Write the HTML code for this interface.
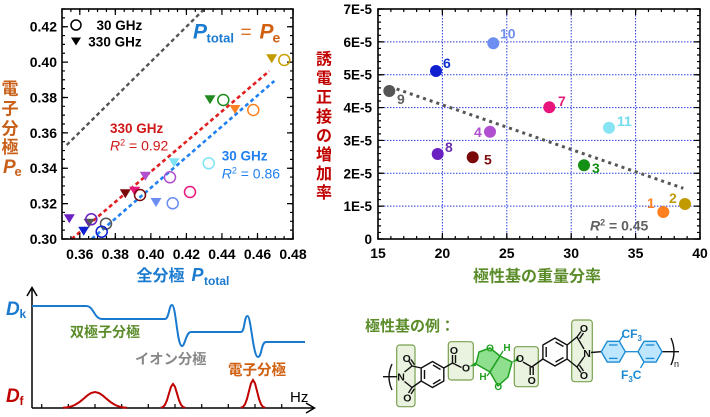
<!DOCTYPE html>
<html><head><meta charset="utf-8"><style>
html,body{margin:0;padding:0;background:#fff;}
svg{display:block;}
text{font-family:"Liberation Sans","Noto Sans CJK JP",sans-serif;}
.b{font-weight:bold;}
.j{font-family:"Liberation Sans","Noto Sans CJK JP",sans-serif;font-weight:bold;}
</style></head><body>
<svg width="710" height="417" viewBox="0 0 710 417" xmlns="http://www.w3.org/2000/svg">
<rect width="710" height="417" fill="#fff"/>

<!-- ===== LEFT CHART ===== -->
<g>
<!-- regression / reference lines -->
<line x1="66.7" y1="145" x2="203.3" y2="10" stroke="#555" stroke-width="2.4" stroke-dasharray="4 3"/>
<line x1="71.7" y1="239" x2="269.3" y2="71" stroke="#e02020" stroke-width="2.6" stroke-dasharray="4 3"/>
<line x1="91.7" y1="239" x2="274.3" y2="81" stroke="#2080f0" stroke-width="2.6" stroke-dasharray="4 3"/>

<!-- frame -->
<rect x="62" y="9" width="231" height="230" fill="none" stroke="#000" stroke-width="1.6"/>
<!-- ticks -->
<g stroke="#000">
<line x1="61.4" y1="237.5" x2="294" y2="237.5" stroke-width="3" stroke-dasharray="1.2 7.685"/>
<line x1="79.2" y1="236" x2="294" y2="236" stroke-width="6" stroke-dasharray="1.2 34.34"/>
<line x1="61.4" y1="10.5" x2="294" y2="10.5" stroke-width="3" stroke-dasharray="1.2 7.685"/>
<line x1="79.2" y1="12" x2="294" y2="12" stroke-width="6" stroke-dasharray="1.2 34.34"/>
<line x1="63.5" y1="239.6" x2="63.5" y2="8" stroke-width="3" stroke-dasharray="1.2 7.646"/>
<line x1="65" y1="239.6" x2="65" y2="8" stroke-width="6" stroke-dasharray="1.2 34.18"/>
<line x1="291.5" y1="239.6" x2="291.5" y2="8" stroke-width="3" stroke-dasharray="1.2 7.646"/>
<line x1="290" y1="239.6" x2="290" y2="8" stroke-width="6" stroke-dasharray="1.2 34.18"/>
</g>

<!-- y tick labels -->
<g class="b" font-size="14" text-anchor="end" fill="#000">
<text x="57" y="244">0.30</text>
<text x="57" y="208.6">0.32</text>
<text x="57" y="173.2">0.34</text>
<text x="57" y="137.8">0.36</text>
<text x="57" y="102.5">0.38</text>
<text x="57" y="67.1">0.40</text>
<text x="57" y="31.7">0.42</text>
</g>
<!-- x tick labels -->
<g class="b" font-size="14" text-anchor="middle" fill="#000">
<text x="79.8" y="259">0.36</text>
<text x="115.3" y="259">0.38</text>
<text x="150.9" y="259">0.40</text>
<text x="186.4" y="259">0.42</text>
<text x="221.9" y="259">0.44</text>
<text x="257.5" y="259">0.46</text>
<text x="293" y="259">0.48</text>
</g>

<!-- data: triangles (330 GHz) -->
<g>
<polygon points="266.2,54.3 277.2,54.3 271.7,63.3" fill="#c09a00"/>
<polygon points="204.5,95.3 215.5,95.3 210,104.3" fill="#208a20"/>
<polygon points="229.5,105 240.5,105 235,114" fill="#ff8020"/>
<polygon points="168.5,158.3 179.5,158.3 174,167.3" fill="#80e4f4"/>
<polygon points="139.8,171.7 150.8,171.7 145.3,180.7" fill="#b050d0"/>
<polygon points="119.8,189.3 130.8,189.3 125.3,198.3" fill="#7a0a0a"/>
<polygon points="129.2,186.7 140.2,186.7 134.7,195.7" fill="#e8157a"/>
<polygon points="150.5,198 161.5,198 156,207" fill="#6b8ef0"/>
<polygon points="63.8,214.3 74.8,214.3 69.3,223.3" fill="#6a20c0"/>
<polygon points="83.5,218.7 94.5,218.7 89,227.7" fill="#555"/>
<polygon points="78.2,226.7 89.2,226.7 83.7,235.7" fill="#1020d0"/>
</g>
<!-- data: circles (30 GHz) -->
<g fill="none" stroke-width="1.5">
<circle cx="284.3" cy="60" r="5.5" stroke="#c8a000"/>
<circle cx="223.3" cy="100" r="5.5" stroke="#208a20"/>
<circle cx="253.3" cy="110" r="5.5" stroke="#ff8020"/>
<circle cx="208.7" cy="163.3" r="5.5" stroke="#80e4f4"/>
<circle cx="170" cy="177.3" r="5.5" stroke="#b050d0"/>
<circle cx="140" cy="195" r="5.5" stroke="#7a0a0a"/>
<circle cx="190" cy="192" r="5.5" stroke="#e8157a"/>
<circle cx="172.7" cy="203.3" r="5.5" stroke="#6b8ef0"/>
<circle cx="91.3" cy="219.3" r="5.5" stroke="#6a20c0"/>
<circle cx="106" cy="223.7" r="5.5" stroke="#555"/>
<circle cx="101.7" cy="231.7" r="5.5" stroke="#1020d0"/>
</g>

<!-- legend -->
<circle cx="76" cy="25" r="5" fill="none" stroke="#000" stroke-width="1.5"/>
<text x="96.5" y="30" class="b" font-size="13.5">30 GHz</text>
<polygon points="71,37.5 81,37.5 76,45.5" fill="#000"/>
<text x="88.3" y="46.5" class="b" font-size="13.5">330 GHz</text>

<!-- P_total = P_e -->
<text x="193" y="38.5" font-family="Liberation Serif,serif" font-weight="bold" font-style="italic" font-size="21" fill="#1a7ad0">P</text>
<text x="206.5" y="42.5" class="b" font-size="13" fill="#1a7ad0">total</text>
<text x="240.5" y="38.5" font-size="19" fill="#e07020">=</text>
<text x="259.5" y="38.5" font-family="Liberation Serif,serif" font-weight="bold" font-style="italic" font-size="21" fill="#d06010">P</text>
<text x="272.5" y="42.5" font-family="Liberation Serif,serif" font-weight="bold" font-size="14" fill="#d06010">e</text>

<!-- fit annotations -->
<text x="110" y="133" class="b" font-size="13.5" fill="#d01818">330 GHz</text>
<text x="110" y="150.5" font-size="14" fill="#d01818"><tspan font-style="italic">R</tspan><tspan font-size="9" dy="-5">2</tspan><tspan dy="5"> = 0.92</tspan></text>
<text x="221.7" y="160.5" class="b" font-size="13.5" fill="#2080f0">30 GHz</text>
<text x="221.7" y="178.5" font-size="14" fill="#2080f0"><tspan font-style="italic">R</tspan><tspan font-size="9" dy="-5">2</tspan><tspan dy="5"> = 0.86</tspan></text>

<!-- axis titles -->
<g class="j" font-size="17" fill="#c8601a" text-anchor="middle">
<text x="10" y="94.5">電</text>
<text x="10" y="114.5">子</text>
<text x="10" y="134.5">分</text>
<text x="10" y="153">極</text>
</g>
<text x="3" y="173" font-family="Liberation Serif,serif" font-weight="bold" font-style="italic" font-size="19" fill="#c8601a">P</text>
<text x="14.5" y="176" font-family="Liberation Serif,serif" font-weight="bold" font-size="13" fill="#c8601a">e</text>

<text x="136.5" y="281" class="j" font-size="16" fill="#1a7ad0">全分極</text>
<text x="191.5" y="281" font-weight="bold" font-style="italic" font-size="18" fill="#1a7ad0">P</text>
<text x="204" y="285" class="b" font-size="12" fill="#1a7ad0">total</text>
</g>

<!-- ===== RIGHT CHART ===== -->
<g>
<!-- grid -->
<g stroke="#2a3ae0" stroke-width="1" stroke-dasharray="1.5 1.5">
<line x1="442.4" y1="9" x2="442.4" y2="239"/>
<line x1="506.8" y1="9" x2="506.8" y2="239"/>
<line x1="571.2" y1="9" x2="571.2" y2="239"/>
<line x1="635.6" y1="9" x2="635.6" y2="239"/>
<line x1="378" y1="206.1" x2="700" y2="206.1"/>
<line x1="378" y1="173.3" x2="700" y2="173.3"/>
<line x1="378" y1="140.4" x2="700" y2="140.4"/>
<line x1="378" y1="107.6" x2="700" y2="107.6"/>
<line x1="378" y1="74.7" x2="700" y2="74.7"/>
<line x1="378" y1="41.9" x2="700" y2="41.9"/>
</g>
<!-- trendline -->
<line x1="390" y1="86.7" x2="683.3" y2="188.3" stroke="#555" stroke-width="3" stroke-dasharray="3 4"/>

<!-- frame -->
<rect x="378" y="9" width="322" height="230" fill="none" stroke="#000" stroke-width="1.6"/>
<g stroke="#000">
<line x1="377.4" y1="237.5" x2="701" y2="237.5" stroke-width="3" stroke-dasharray="1.2 11.68"/>
<line x1="377.4" y1="236" x2="701" y2="236" stroke-width="6" stroke-dasharray="1.2 63.2"/>
<line x1="377.4" y1="10.5" x2="701" y2="10.5" stroke-width="3" stroke-dasharray="1.2 11.68"/>
<line x1="377.4" y1="12" x2="701" y2="12" stroke-width="6" stroke-dasharray="1.2 63.2"/>
<line x1="379.5" y1="239.6" x2="379.5" y2="8" stroke-width="3" stroke-dasharray="1.2 5.371"/>
<line x1="381" y1="239.6" x2="381" y2="8" stroke-width="6" stroke-dasharray="1.2 31.657"/>
<line x1="698.5" y1="239.6" x2="698.5" y2="8" stroke-width="3" stroke-dasharray="1.2 5.371"/>
<line x1="697" y1="239.6" x2="697" y2="8" stroke-width="6" stroke-dasharray="1.2 31.657"/>
</g>

<!-- tick labels -->
<g class="b" font-size="13.5" text-anchor="end">
<text x="372" y="244">0</text>
<text x="372" y="211">1E-5</text>
<text x="372" y="178.3">2E-5</text>
<text x="372" y="145.4">3E-5</text>
<text x="372" y="112.6">4E-5</text>
<text x="372" y="79.7">5E-5</text>
<text x="372" y="46.9">6E-5</text>
<text x="372" y="14">7E-5</text>
</g>
<g class="b" font-size="14" text-anchor="middle">
<text x="378" y="258">15</text>
<text x="442.4" y="258">20</text>
<text x="506.8" y="258">25</text>
<text x="571.2" y="258">30</text>
<text x="635.6" y="258">35</text>
<text x="700" y="258">40</text>
</g>

<!-- points -->
<circle cx="493.3" cy="43.3" r="6" fill="#6b8ef0"/>
<circle cx="436" cy="71" r="6" fill="#1020d0"/>
<circle cx="389.3" cy="91" r="6" fill="#555"/>
<circle cx="549.3" cy="107.3" r="6" fill="#e8157a"/>
<circle cx="609" cy="127.7" r="6" fill="#88e4f2"/>
<circle cx="490" cy="131.7" r="6" fill="#b050d0"/>
<circle cx="437.7" cy="154" r="6" fill="#6a20c0"/>
<circle cx="472.7" cy="157.3" r="6" fill="#7a0a0a"/>
<circle cx="584" cy="165.3" r="6" fill="#149014"/>
<circle cx="663.3" cy="212" r="6" fill="#ff8020"/>
<circle cx="685" cy="204" r="6" fill="#c09a00"/>

<g class="b" font-size="14">
<text x="500" y="38.5" fill="#7090f0">10</text>
<text x="443" y="68" fill="#1030d0">6</text>
<text x="397" y="104" fill="#606060">9</text>
<text x="558" y="106" fill="#e0207a">7</text>
<text x="617" y="126" fill="#70dcee">11</text>
<text x="474" y="137" fill="#b050d0">4</text>
<text x="445" y="152" fill="#6a30b0">8</text>
<text x="484" y="164.5" fill="#801010">5</text>
<text x="592" y="173" fill="#109010">3</text>
<text x="647" y="208" fill="#ff8020">1</text>
<text x="669" y="203" fill="#c09a10">2</text>
</g>
<text x="590" y="230.5" class="b" font-size="14" fill="#606060"><tspan font-style="italic">R</tspan><tspan font-size="9" dy="-5">2</tspan><tspan dy="5"> = 0.45</tspan></text>

<!-- axis titles -->
<g class="j" font-size="16" fill="#c00000" text-anchor="middle">
<text x="324" y="64.6">誘</text>
<text x="324" y="83.7">電</text>
<text x="324" y="102.7">正</text>
<text x="324" y="121.8">接</text>
<text x="324" y="140.8">の</text>
<text x="324" y="159.9">増</text>
<text x="324" y="178.9">加</text>
<text x="324" y="198">率</text>
</g>
<text x="537" y="281.5" class="j" font-size="16" fill="#5b8c2a" text-anchor="middle">極性基の重量分率</text>
</g>

<!-- ===== BOTTOM LEFT DIAGRAM ===== -->
<g>
<g stroke="#000" stroke-width="1.5" fill="none">
<line x1="32" y1="408" x2="32" y2="288"/>
<polyline points="27,296 32,287.5 37,296"/>
<line x1="32" y1="408" x2="314" y2="408"/>
<polyline points="306,403 314.5,408 306,413"/>
</g>
<g stroke="#000" stroke-width="1.2">
<line x1="41.7" y1="408" x2="41.7" y2="404"/>
<line x1="68.3" y1="408" x2="68.3" y2="404"/>
<line x1="95" y1="408" x2="95" y2="404"/>
<line x1="121.7" y1="408" x2="121.7" y2="404"/>
<line x1="148.3" y1="408" x2="148.3" y2="404"/>
<line x1="175" y1="408" x2="175" y2="404"/>
<line x1="201.7" y1="408" x2="201.7" y2="404"/>
<line x1="228.3" y1="408" x2="228.3" y2="404"/>
<line x1="255" y1="408" x2="255" y2="404"/>
<line x1="281.7" y1="408" x2="281.7" y2="404"/>
</g>
<path d="M32,306 L86,306 C94,306 94,319 102,319 L165,319 C169,319 169,305 172,305 C176,305 177,346 182,346 C185,346 186,332 191,332 L241,332 C245,332 244,316 247.5,316 C251,316 253,357 258,357 C262,357 261,342 266,342 L305,342" fill="none" stroke="#1a7ad0" stroke-width="2"/>
<g fill="none" stroke="#c00000" stroke-width="2">
<polyline points="63,407.8 67,407.4 71,406.5 75,404.9 79,402.4 83,399.2 87,395.7 91,393 95,392 99,393 103,395.7 107,399.2 111,402.4 115,404.9 119,406.5 123,407.4 127,407.8"/>
<polyline points="161,407.7 163,406.9 165,404.8 167,400.2 169,393.4 171,386.8 173,384 175,386.8 177,393.4 179,400.2 181,404.8 183,406.9 185,407.7"/>
<polyline points="241,407.7 243,406.8 245,404.2 247,398.9 249,391 251,383.3 253,380 255,383.3 257,391 259,398.9 261,404.2 263,406.8 265,407.7"/>
</g>
<text x="6" y="315" font-weight="bold" font-style="italic" font-size="19" fill="#1a7ad0">D</text>
<text x="19.5" y="318" class="b" font-size="12" fill="#1a7ad0">k</text>
<text x="6" y="402" font-weight="bold" font-style="italic" font-size="19" fill="#c00000">D</text>
<text x="19.5" y="405" class="b" font-size="12" fill="#c00000">f</text>
<text x="290" y="402" font-size="15" fill="#000">Hz</text>
<text x="70" y="337" class="j" font-size="14" fill="#5b8c2a">双極子分極</text>
<text x="135" y="364" class="j" font-size="14.3" fill="#888">イオン分極</text>
<text x="228" y="375" class="j" font-size="14.5" fill="#d06010">電子分極</text>
</g>

<!-- ===== BOTTOM RIGHT STRUCTURE ===== -->
<g>
<text x="365" y="331" class="j" font-size="15" fill="#5b8c2a">極性基の例：</text>

<!-- highlight boxes -->
<g fill="#eaf3e0" stroke="#7aa050" stroke-width="1.2">
<rect x="396.7" y="345" width="18.3" height="61.7" rx="3"/>
<rect x="448.3" y="341.7" width="25" height="38.3" rx="3"/>
<rect x="514.3" y="346.7" width="24" height="40" rx="3"/>
<rect x="571.7" y="320" width="20.6" height="61.7" rx="3"/>
</g>

<!-- isosorbide (green) -->
<g fill="#8ee08e" stroke="#20a020" stroke-width="1.5" stroke-linejoin="round">
<polygon points="476,364 479,352 490,348 500,356 490,372"/>
<polygon points="500,356 490,372 498,386 508,377 512,362"/>
</g>
<line x1="500" y1="356" x2="503" y2="351" stroke="#20a020" stroke-width="1.3"/>
<line x1="490" y1="372" x2="487" y2="376" stroke="#20a020" stroke-width="1.3"/>
<g class="b" font-size="10" fill="#20a020" text-anchor="middle">
<text x="490" y="351.5">O</text>
<text x="498.3" y="390">O</text>
<text x="507" y="351">H</text>
<text x="483" y="380">H</text>
</g>

<!-- black skeleton -->
<g stroke="#111" stroke-width="1.4" fill="none" stroke-linejoin="round">
<line x1="383" y1="376.7" x2="397" y2="376.7"/>
<path d="M392,364 Q386,377 392,390"/>
<!-- imide 1 -->
<polyline points="404.5,372 412,366 421.2,368"/>
<polyline points="404.5,381.5 412,387.5 421.2,381"/>
<line x1="412" y1="366" x2="408.5" y2="360.5"/>
<line x1="414.5" y1="364.8" x2="411" y2="359.5"/>
<line x1="412" y1="387.5" x2="408.5" y2="393"/>
<line x1="414.5" y1="388.7" x2="411" y2="394"/>
<!-- benzene 1 -->
<polygon points="432.5,361.5 443.8,368 443.8,381 432.5,387.5 421.2,381 421.2,368"/>
<line x1="424.5" y1="370" x2="424.5" y2="379"/>
<line x1="433" y1="365" x2="440.5" y2="369.5"/>
<line x1="433" y1="384" x2="440.5" y2="379.5"/>
<!-- ester 1 -->
<polyline points="443.8,368 452.5,363 461.5,367.5"/>
<line x1="452.5" y1="363" x2="452.5" y2="355"/>
<line x1="455.5" y1="363" x2="455.5" y2="355"/>
<!-- ester 2 -->
<polyline points="523,362 531.7,367 542.9,359"/>
<line x1="530.2" y1="367" x2="530.2" y2="375"/>
<line x1="533.2" y1="367" x2="533.2" y2="375"/>
<!-- benzene 2 -->
<polygon points="555,338 567.1,345 567.1,359 555,366 542.9,359 542.9,345"/>
<line x1="546.2" y1="347" x2="546.2" y2="357"/>
<line x1="555.5" y1="342" x2="563.5" y2="346.5"/>
<line x1="555.5" y1="362" x2="563.5" y2="357.5"/>
<!-- imide 2 -->
<polyline points="567.1,345 577,337 584,349"/>
<polyline points="567.1,359 577,367 584,357"/>
<line x1="577" y1="337" x2="581" y2="331.5"/>
<line x1="579.5" y1="338.7" x2="583.5" y2="333"/>
<line x1="577" y1="367" x2="581" y2="372.5"/>
<line x1="579.5" y1="365.3" x2="583.5" y2="371"/>
<line x1="591" y1="352.5" x2="601.3" y2="351.7"/>
<!-- right end -->
<line x1="662" y1="351.7" x2="679" y2="351.7"/>
<path d="M671,338 Q677,351.7 671,365"/>
</g>
<!-- wedges -->
<polygon points="469,366.5 476,362 476,366" fill="#20a020"/>
<polygon points="512,362 518.5,357 519,361" fill="#20a020"/>

<g class="b" font-size="10.5" fill="#111" text-anchor="middle">
<text x="401" y="380.5">N</text>
<text x="406.7" y="362">O</text>
<text x="407.3" y="401.5">O</text>
<text x="454" y="354">O</text>
<text x="466" y="371.5">O</text>
<text x="520" y="362">O</text>
<text x="531.7" y="384">O</text>
<text x="584" y="332">O</text>
<text x="587" y="357">N</text>
<text x="584" y="379">O</text>
</g>
<text x="674" y="367" font-size="9" fill="#111">n</text>

<!-- biphenyl (blue) -->
<g fill="#bfe6ff" stroke="#1a8ad4" stroke-width="1.4" stroke-linejoin="round">
<polygon points="601.3,351.7 607.3,341.3 619.3,341.3 625.3,351.7 619.3,362.1 607.3,362.1"/>
<polygon points="638,351.7 644,341.3 656,341.3 662,351.7 656,362.1 644,362.1"/>
</g>
<g stroke="#1a8ad4" stroke-width="1.3" fill="none">
<line x1="609" y1="345" x2="617.5" y2="345"/>
<line x1="609" y1="358.4" x2="617.5" y2="358.4"/>
<line x1="645.7" y1="345" x2="654.3" y2="345"/>
<line x1="645.7" y1="358.4" x2="654.3" y2="358.4"/>
<line x1="625.3" y1="351.7" x2="638" y2="351.7"/>
<line x1="619.3" y1="341.3" x2="623.5" y2="335"/>
<line x1="644" y1="362.1" x2="640.5" y2="368"/>
</g>
<text x="621.5" y="338" class="b" font-size="12" fill="#1a8ad4">CF<tspan font-size="8" dy="3">3</tspan></text>
<text x="621" y="379" class="b" font-size="12" fill="#1a8ad4">F<tspan font-size="8" dy="3">3</tspan><tspan dy="-3">C</tspan></text>
</g>
</svg>
</body></html>
